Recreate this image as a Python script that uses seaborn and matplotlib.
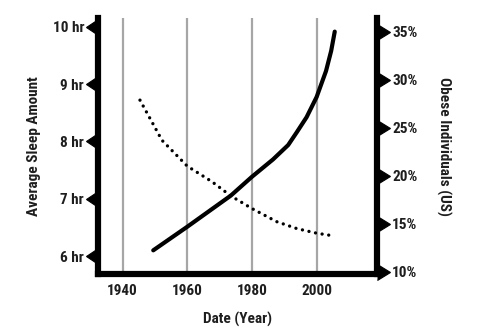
import matplotlib
matplotlib.use("Agg")
import matplotlib.pyplot as plt
import seaborn as sns
import pandas as pd

# Average nightly sleep (hours) by year
sleep_years = [1945.4, 1952.2, 1960, 1967.6, 1973.5, 1980, 1987.7, 1993.9, 2000, 2005.6]
sleep_hours = [8.72, 8.02, 7.57, 7.30, 7.05, 6.83, 6.60, 6.48, 6.40, 6.35]

# Share of obese individuals in the US (%) by year
obese_years = [1949.5, 1960, 1973.5, 1980, 1986.5, 1991.2, 1993.8, 1996.9, 2000, 2002.9, 2004.5, 2005.6]
obese_pct = [12.25, 14.7, 17.95, 19.9, 21.7, 23.2, 24.5, 26.1, 28.2, 30.9, 33.0, 35.0]

year_ticks = [1940, 1960, 1980, 2000]
sleep_ticks = [6, 7, 8, 9, 10]
sleep_labels = ["6 hr", "7 hr", "8 hr", "9 hr", "10 hr"]
obese_ticks = [10, 15, 20, 25, 30, 35]
obese_labels = ["10%", "15%", "20%", "25%", "30%", "35%"]

sns.set_style("white")
plt.rcParams["font.family"] = ["Roboto Condensed", "Open Sans Condensed",
                               "Liberation Sans Narrow", "DejaVu Sans"]
plt.rcParams["font.stretch"] = "condensed"
plt.rcParams["font.weight"] = "bold"
plt.rcParams["axes.labelweight"] = "bold"
text_color = "#1e1e1e"

fig = plt.figure(figsize=(4.8, 3.3), dpi=100)
ax = fig.add_axes([0.204, 0.170, 0.581, 0.775])
ax2 = ax.twinx()

sleep_df = pd.DataFrame({"year": sleep_years, "hours": sleep_hours})
obese_df = pd.DataFrame({"year": obese_years, "pct": obese_pct})

sns.lineplot(data=sleep_df, x="year", y="hours", ax=ax, color="black",
             linewidth=2.4, linestyle=(0, (0.01, 2.0)), dash_capstyle="round")
sns.lineplot(data=obese_df, x="year", y="pct", ax=ax2, color="black",
             linewidth=3.0, solid_capstyle="round", solid_joinstyle="round")

ax.set_xlim(1932.4, 2018.6)
ax.set_ylim(5.69, 10.15)
ax2.set_ylim(9.8, 36.4)

ax.set_xticks(year_ticks)
ax.set_yticks(sleep_ticks)
ax.set_yticklabels(sleep_labels)
ax2.set_yticks(obese_ticks)
ax2.set_yticklabels(obese_labels)

ax.grid(axis="x", color="#a6a6a6", linewidth=1.6)
ax.grid(axis="y", visible=False)
ax2.grid(False)

for a in (ax, ax2):
    a.spines["top"].set_visible(False)
    for s in ("left", "right", "bottom"):
        a.spines[s].set_linewidth(4.4)
        a.spines[s].set_color("black")
        a.spines[s].set_capstyle("projecting")

ax.tick_params(axis="x", length=0, pad=7, labelsize=11, labelcolor=text_color)
ax.tick_params(axis="y", left=True, length=10, pad=0, labelsize=11,
               labelcolor=text_color, color="black")
ax2.tick_params(axis="y", right=True, length=10, pad=1, labelsize=11,
                labelcolor=text_color, color="black")

# Arrow-head tick marks pointing away from the spines
for t in ax.yaxis.get_major_ticks():
    t.tick1line.set_marker(8)
    t.tick1line.set_markersize(12)
for t in ax2.yaxis.get_major_ticks():
    t.tick2line.set_marker(9)
    t.tick2line.set_markersize(12)

ax.set_xlabel("Date (Year)", fontsize=11, color=text_color, labelpad=10)
ax.set_ylabel("Average Sleep Amount", fontsize=11, color=text_color, labelpad=8)
ax2.set_ylabel("Obese Individuals (US)", fontsize=11, color=text_color,
               rotation=270, labelpad=24)

fig.savefig("out.png", dpi=100, facecolor="white")
